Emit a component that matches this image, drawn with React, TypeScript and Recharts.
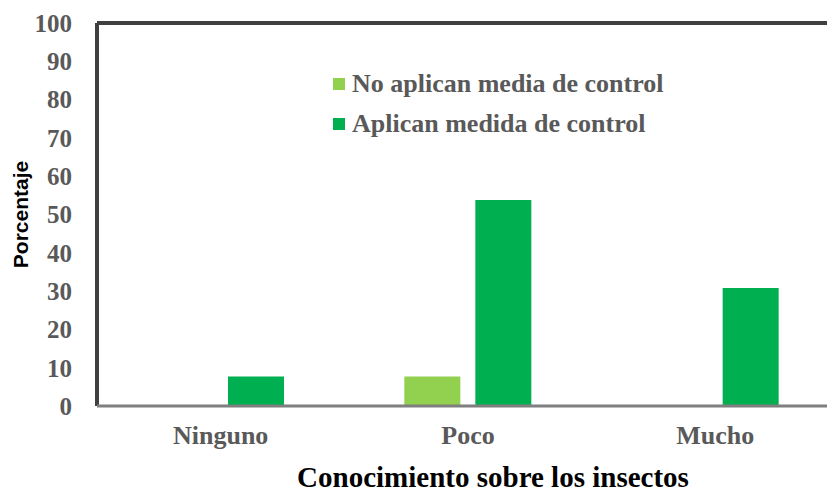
import { BarChart, Bar, XAxis, YAxis, ReferenceLine } from "recharts";

const categories = ["Ninguno", "Poco", "Mucho"];
const noAplican = [0, 7.7, 0];
const aplican = [7.7, 53.8, 30.8];
const yTicks = [0, 10, 20, 30, 40, 50, 60, 70, 80, 90, 100];

const data = categories.map((name, i) => ({
  name,
  noAplican: noAplican[i],
  aplican: aplican[i],
}));

const serif = "'Liberation Serif', 'Times New Roman', serif";
const grey = "#595959";

const legendItems = [
  { label: "No aplican media de control", color: "#92D050" },
  { label: "Aplican medida de control", color: "#00B050" },
];

function LegendBox() {
  return (
    <div
      style={{
        position: "absolute",
        left: 333,
        top: 64,
        fontFamily: serif,
        fontWeight: "bold",
        fontSize: 26,
        color: grey,
      }}
    >
      {legendItems.map((it) => (
        <div key={it.label} style={{ display: "flex", alignItems: "center", height: 40 }}>
          <span
            style={{ width: 12, height: 12, background: it.color, marginRight: 7, display: "inline-block" }}
          />
          {it.label}
        </div>
      ))}
    </div>
  );
}

export default function App() {
  return (
    <div
      style={{
        position: "absolute",
        left: 0,
        top: 0,
        width: 827,
        height: 493,
        overflow: "hidden",
        background: "#fff",
      }}
    >
      <BarChart
        width={839}
        height={493}
        data={data}
        margin={{ top: 23, right: 0, left: 0, bottom: 0 }}
        barGap={15}
        barSize={56}
      >
        <YAxis
          width={97}
          domain={[0, 100]}
          ticks={yTicks}
          interval={0}
          tickSize={0}
          tickMargin={25}
          axisLine={{ stroke: "#404040", strokeWidth: 4 }}
          tick={{ fontFamily: serif, fontWeight: "bold", fontSize: 25, fill: grey }}
          label={{
            value: "Porcentaje",
            angle: -90,
            position: "insideLeft",
            offset: 21,
            style: {
              fontFamily: "'Liberation Sans', Arial, sans-serif",
              fontWeight: "bold",
              fontSize: 21,
              fill: "#000",
              textAnchor: "middle",
            },
          }}
        />
        <XAxis
          dataKey="name"
          height={87}
          tickSize={0}
          tickMargin={20}
          axisLine={{ stroke: "#7f7f7f", strokeWidth: 3 }}
          tick={{ fontFamily: serif, fontWeight: "bold", fontSize: 26, fill: grey }}
          label={{
            value: "Conocimiento sobre los insectos",
            position: "insideBottom",
            offset: 6,
            dx: 25,
            style: { fontFamily: serif, fontWeight: "bold", fontSize: 29, fill: "#000" },
          }}
        />
        <ReferenceLine y={100} stroke="#404040" strokeWidth={4} />
        <Bar dataKey="noAplican" fill="#92D050" isAnimationActive={false} />
        <Bar dataKey="aplican" fill="#00B050" isAnimationActive={false} />
      </BarChart>
      <LegendBox />
    </div>
  );
}
